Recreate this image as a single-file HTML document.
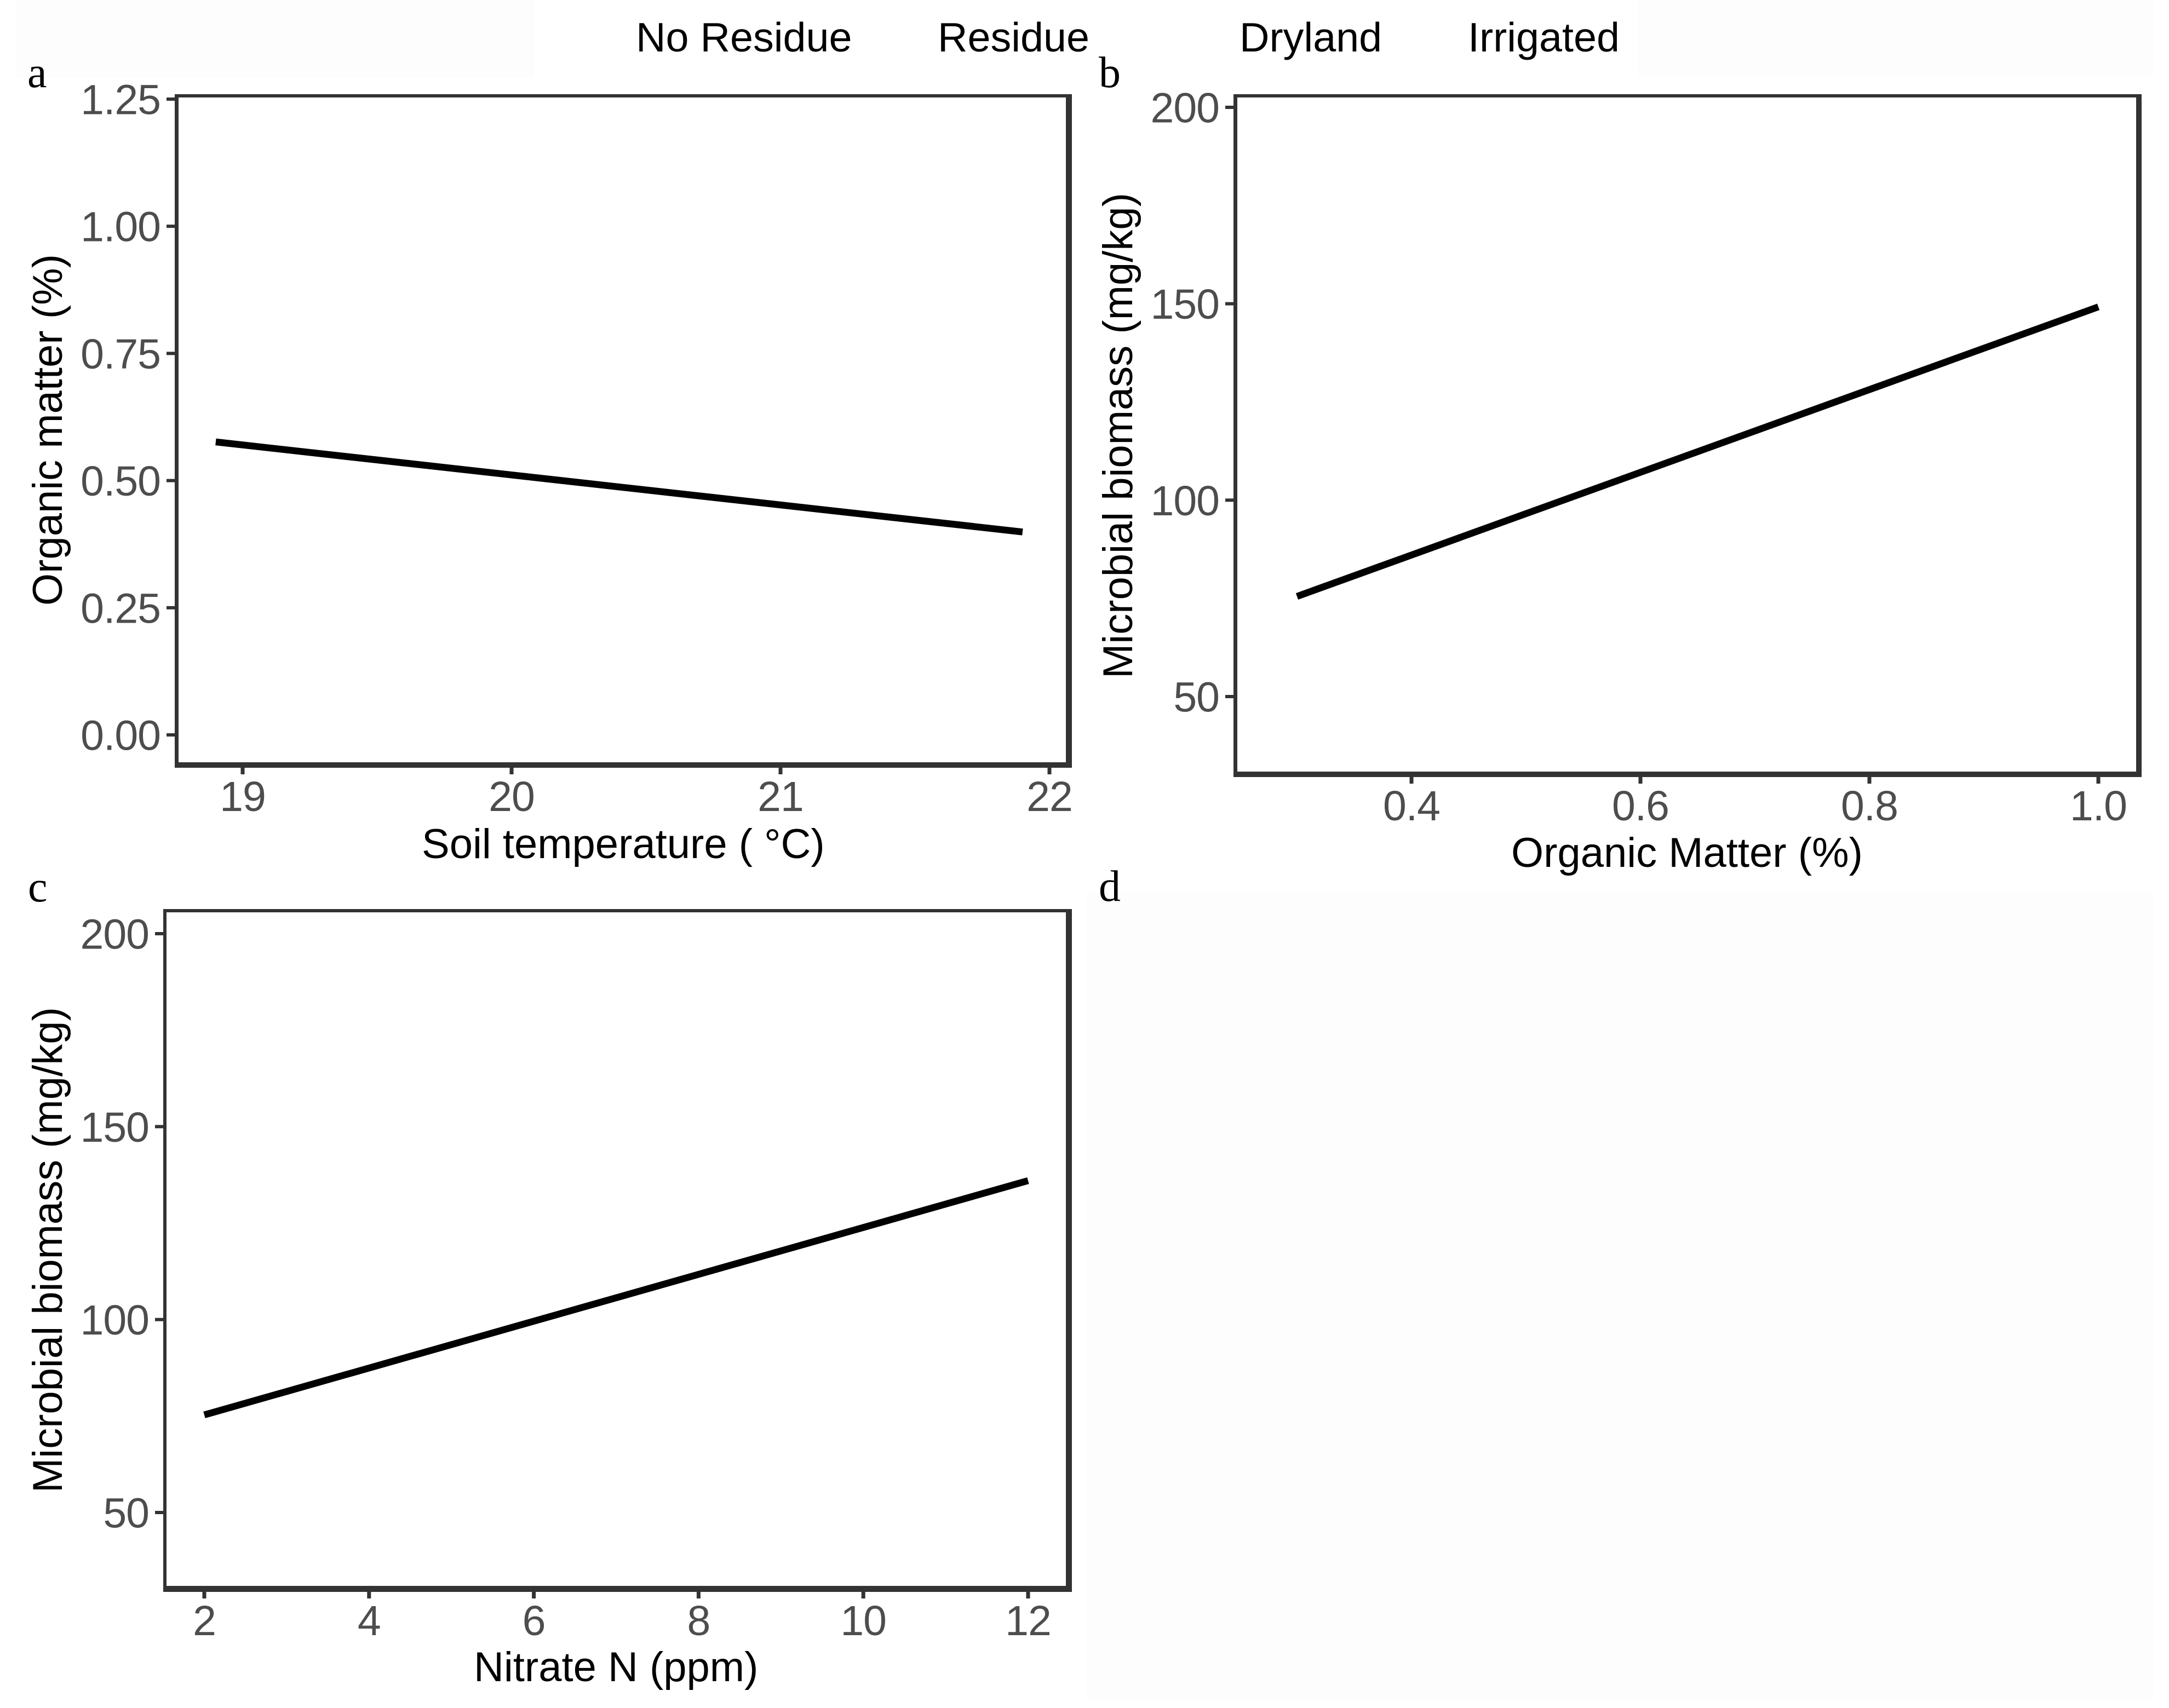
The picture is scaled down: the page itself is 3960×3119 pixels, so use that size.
<!DOCTYPE html>
<html lang="en">
<head>
<meta charset="utf-8">
<title>Soil regression panels</title>
<style>
html,body{margin:0;padding:0;background:#fff;}
svg{display:block;}
text{font-family:"Liberation Sans",Arial,sans-serif;font-size:76px;fill:#000;}
.header-label{font-size:75.5px;}
.tick-label{fill:#4d4d4d;font-size:77px;letter-spacing:-1px;}
.panel-letter{font-family:"Liberation Serif","Times New Roman",serif;font-size:80px;}
</style>
</head>
<body>
<svg id="chart" xmlns="http://www.w3.org/2000/svg" width="3960" height="3119" viewBox="0 0 3960 3119">
  <rect x="0" y="0" width="3960" height="3119" fill="#ffffff"/>
  <rect x="29" y="0" width="947" height="142" fill="#fdfdfd"/>
  <rect x="2990" y="0" width="941" height="140" fill="#fdfdfd"/>
  <rect x="1985" y="1632" width="1946" height="1470" fill="#fdfdfd"/>

  <text class="header-label" x="1161" y="94">No Residue</text>
  <text class="header-label" x="1712" y="94">Residue</text>
  <text class="header-label" x="2263" y="94">Dryland</text>
  <text class="header-label" x="2680" y="94">Irrigated</text>

  <text class="panel-letter" x="50" y="159">a</text>
  <text class="panel-letter" x="2006" y="159">b</text>
  <text class="panel-letter" x="51" y="1646">c</text>
  <text class="panel-letter" x="2006" y="1645">d</text>

  <text x="770" y="1567">Soil temperature ( °C)</text>
  <text transform="translate(113,1106) rotate(-90)">Organic matter (%)</text>
  <text x="2759" y="1583">Organic Matter (%)</text>
  <text transform="translate(2067,1239) rotate(-90)">Microbial biomass (mg/kg)</text>
  <text x="865" y="3070">Nitrate N (ppm)</text>
  <text transform="translate(113,2726) rotate(-90)">Microbial biomass (mg/kg)</text>
</svg>
<script>
// Panel a data
const aXTicks = [19, 20, 21, 22];
const aXLabels = ['19', '20', '21', '22'];
const aYTicks = [0, 0.25, 0.5, 0.75, 1, 1.25];
const aYLabels = ['0.00', '0.25', '0.50', '0.75', '1.00', '1.25'];
const aLineX = [18.9, 21.9];
const aLineY = [0.576, 0.399];

// Panel b data
const bXTicks = [0.4, 0.6, 0.8, 1.0];
const bXLabels = ['0.4', '0.6', '0.8', '1.0'];
const bYTicks = [50, 100, 150, 200];
const bYLabels = ['50', '100', '150', '200'];
const bLineX = [0.3, 1.0];
const bLineY = [75.5, 149.2];

// Panel c data
const cXTicks = [2, 4, 6, 8, 10, 12];
const cXLabels = ['2', '4', '6', '8', '10', '12'];
const cYTicks = [50, 100, 150, 200];
const cYLabels = ['50', '100', '150', '200'];
const cLineX = [2, 12];
const cLineY = [75.3, 136.0];

const NS = 'http://www.w3.org/2000/svg';
const svg = document.getElementById('chart');
const FRAME = '#333333';

function linear(d0, d1, r0, r1) {
  return function (v) { return r0 + (v - d0) / (d1 - d0) * (r1 - r0); };
}
function rect(parent, x, y, w, h) {
  const el = document.createElementNS(NS, 'rect');
  el.setAttribute('x', x);
  el.setAttribute('y', y);
  el.setAttribute('width', w);
  el.setAttribute('height', h);
  el.setAttribute('fill', FRAME);
  parent.appendChild(el);
  return el;
}
function label(parent, x, y, anchor, str) {
  const el = document.createElementNS(NS, 'text');
  el.setAttribute('x', x);
  el.setAttribute('y', y);
  el.setAttribute('text-anchor', anchor);
  el.setAttribute('class', 'tick-label');
  el.textContent = str;
  parent.appendChild(el);
  return el;
}

function drawPanel(id, box, xs, ys, xTicks, xLabels, yTicks, yLabels, lineX, lineY) {
  const g = document.createElementNS(NS, 'g');
  
  
  svg.appendChild(g);

  const series = document.createElementNS(NS, 'line');
  series.setAttribute('x1', xs(lineX[0]));
  series.setAttribute('y1', ys(lineY[0]));
  series.setAttribute('x2', xs(lineX[1]));
  series.setAttribute('y2', ys(lineY[1]));
  series.setAttribute('stroke', '#000000');
  series.setAttribute('stroke-width', '12.5');
  series.setAttribute('stroke-linecap', 'butt');
  
  
  g.appendChild(series);

  const top = rect(g, box.left, box.top, box.right - box.left, box.topW);
  
  
  const left = rect(g, box.left, box.top, box.leftW, box.bottom - box.top);
  
  
  const right = rect(g, box.right - box.rightW, box.top, box.rightW, box.bottom - box.top);
  
  
  const bottom = rect(g, box.left, box.bottom - box.bottomW, box.right - box.left, box.bottomW);
  
  

  xTicks.forEach(function (v, i) {
    const px = xs(v);
    const t = rect(g, px - 3.5, box.bottom, 7, 12);
    
    
    const l = label(g, px, box.bottom + 79, 'middle', xLabels[i]);
    
    
  });
  yTicks.forEach(function (v, i) {
    const py = ys(v);
    const t = rect(g, box.left - 15, py - 3, 15, 6);
    
    
    const l = label(g, box.left - 26, py + 27.5, 'end', yLabels[i]);
    
    
  });
}

drawPanel('a',
  {left: 319, top: 172, right: 1957, bottom: 1402, leftW: 7, topW: 6, rightW: 11, bottomW: 10},
  linear(19, 22, 443, 1916), linear(0, 1.25, 1342, 181),
  aXTicks, aXLabels, aYTicks, aYLabels, aLineX, aLineY);

drawPanel('b',
  {left: 2252, top: 172, right: 3910, bottom: 1419, leftW: 7, topW: 6, rightW: 10, bottomW: 10},
  linear(0.4, 1.0, 2577, 3831), linear(50, 200, 1272, 196),
  bXTicks, bXLabels, bYTicks, bYLabels, bLineX, bLineY);

drawPanel('c',
  {left: 298, top: 1660, right: 1957, bottom: 2907, leftW: 6, topW: 6, rightW: 11, bottomW: 11},
  linear(2, 12, 373, 1877), linear(50, 200, 2762, 1705),
  cXTicks, cXLabels, cYTicks, cYLabels, cLineX, cLineY);
</script>
</body>
</html>
